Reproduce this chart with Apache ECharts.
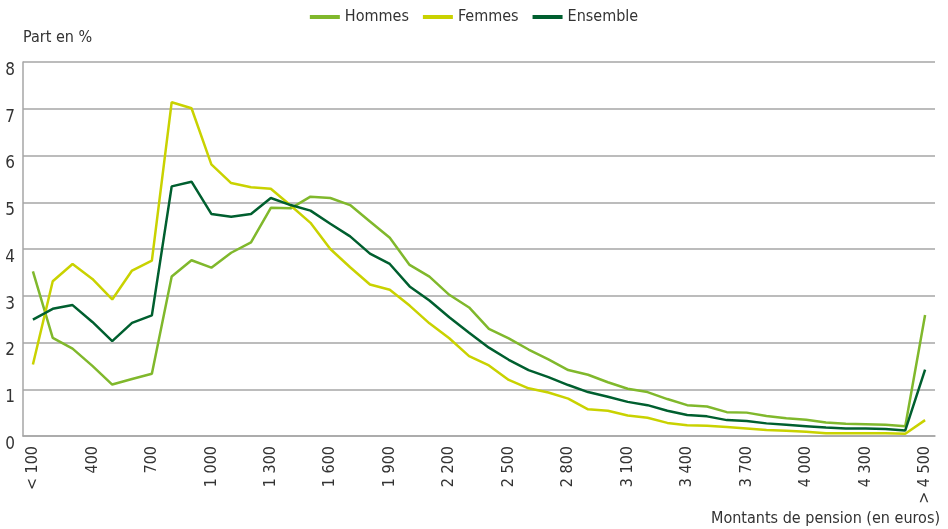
<!DOCTYPE html>
<html>
<head>
<meta charset="utf-8">
<script src="https://cdn.jsdelivr.net/npm/echarts@6/dist/echarts.min.js"></script>
<style>
  html, body { margin: 0; padding: 0; background: #fff; }
  #chart { width: 948px; height: 529px; }
</style>
</head>
<body>
<div id="chart"></div>
<script>
// tranches de pension (en euros)
var categories = ['< 100'];
for (var m = 200; m <= 4500; m += 100) {
    categories.push(m >= 1000 ? Math.floor(m / 1000) + ' ' + String(m % 1000).padStart(3, '0') : String(m));
}
categories.push('> 4 500');

var hommes = [3.52, 2.10, 1.87, 1.50, 1.10, 1.22, 1.33, 3.41, 3.76, 3.60,
    3.92, 4.14, 4.88, 4.87, 5.12, 5.09, 4.94, 4.59, 4.24, 3.66,
    3.41, 3.02, 2.75, 2.29, 2.09, 1.85, 1.64, 1.41, 1.31, 1.15,
    1.01, 0.94, 0.79, 0.66, 0.63, 0.51, 0.50, 0.43, 0.38, 0.35,
    0.29, 0.26, 0.25, 0.24, 0.21, 2.59];
var femmes = [1.53, 3.31, 3.68, 3.36, 2.92, 3.54, 3.75, 7.14, 7.01, 5.81,
    5.41, 5.32, 5.29, 4.93, 4.56, 4.00, 3.61, 3.24, 3.13, 2.79,
    2.41, 2.09, 1.71, 1.51, 1.20, 1.02, 0.93, 0.80, 0.57, 0.54,
    0.44, 0.39, 0.28, 0.23, 0.22, 0.19, 0.16, 0.13, 0.11, 0.09,
    0.06, 0.06, 0.06, 0.06, 0.05, 0.34];
var ensemble = [2.49, 2.72, 2.80, 2.44, 2.03, 2.42, 2.58, 5.34, 5.44, 4.75,
    4.69, 4.75, 5.09, 4.94, 4.82, 4.54, 4.27, 3.90, 3.68, 3.20,
    2.90, 2.54, 2.21, 1.89, 1.63, 1.41, 1.26, 1.09, 0.94, 0.84,
    0.73, 0.66, 0.54, 0.45, 0.42, 0.34, 0.32, 0.27, 0.24, 0.21,
    0.18, 0.16, 0.16, 0.15, 0.12, 1.42];
var yTicks = [0, 1, 2, 3, 4, 5, 6, 7, 8];

var font = "'Liberation Sans Narrow', 'DejaVu Sans Condensed', Roboto, sans-serif";
var textColor = '#333';
var greyLine = '#a6a6a6';

var myChart = echarts.init(document.getElementById('chart'));

function serie(name, data, color) {
    return {
        name: name,
        type: 'line',
        data: data,
        symbol: 'none',
        lineStyle: { color: color, width: 2.5 },
        itemStyle: { color: color }
    };
}

var option = {
    animation: false,
    textStyle: { fontFamily: font },
    title: {
        text: 'Montants de pension (en euros)',
        right: 8,
        bottom: 2,
        padding: 0,
        textStyle: { fontFamily: font, fontSize: 16, fontWeight: 'normal', color: textColor }
    },
    legend: {
        top: 4,
        left: 'center',
        itemWidth: 30,
        itemHeight: 4,
        itemGap: 14,
        icon: 'rect',
        textStyle: { fontFamily: font, fontSize: 16, color: textColor },
        data: ['Hommes', 'Femmes', 'Ensemble']
    },
    grid: {
        left: 23,
        right: 13,
        top: 62,
        bottom: 93
    },
    xAxis: {
        type: 'category',
        data: categories,
        boundaryGap: true,
        axisLine: { lineStyle: { color: greyLine, width: 1.5 } },
        axisTick: { interval: 0, length: 8, lineStyle: { color: greyLine, width: 1.5 } },
        axisLabel: {
            interval: 2,
            rotate: 90,
            margin: 10,
            fontFamily: font,
            fontSize: 16,
            color: textColor
        }
    },
    yAxis: {
        type: 'value',
        min: yTicks[0],
        max: yTicks[yTicks.length - 1],
        interval: 1,
        name: 'Part en %',
        nameLocation: 'end',
        nameGap: 16,
        nameTextStyle: { fontFamily: font, fontSize: 16, color: textColor, align: 'left' },
        axisLine: { show: true, lineStyle: { color: greyLine, width: 1.5 } },
        axisTick: { show: false },
        axisLabel: {
            margin: 8,
            verticalAlign: 'top',
            fontFamily: font,
            fontSize: 17,
            color: textColor
        },
        splitLine: { lineStyle: { color: greyLine, width: 1.5 } }
    },
    series: [
        serie('Hommes', hommes, '#80b82c'),
        serie('Femmes', femmes, '#c9d200'),
        serie('Ensemble', ensemble, '#005f2f')
    ]
};

myChart.setOption(option);
window.addEventListener('resize', function() {
    myChart.resize();
});
</script>
</body>
</html>
